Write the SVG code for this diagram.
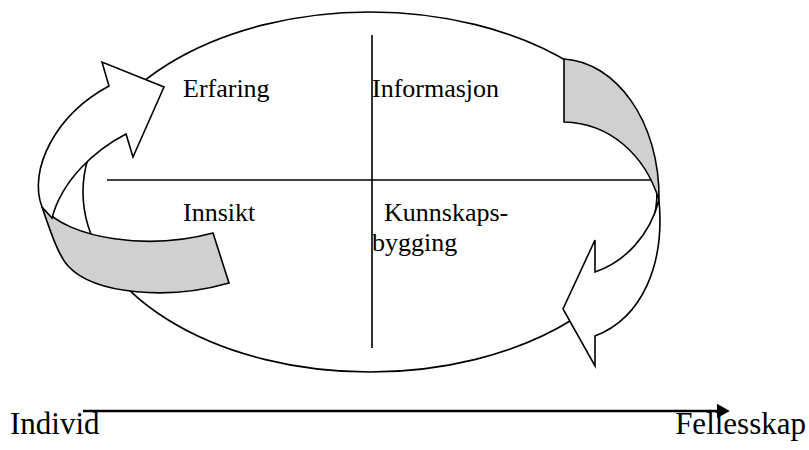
<svg xmlns="http://www.w3.org/2000/svg" width="809" height="450" viewBox="0 0 809 450">
  <defs>
    <style>
      .ln { fill: none; stroke: #000; stroke-width: 1.6; }
      .body { fill: #fff; stroke: #000; stroke-width: 1.6; stroke-linejoin: miter; }
      .ribbon { fill: #d0d0d0; stroke: #000; stroke-width: 1.6; stroke-linejoin: miter; }
      .lbl { font-family: "Liberation Serif", "Times New Roman", serif; font-size: 26px; fill: #000; }
      .axis-lbl { font-family: "Liberation Serif", "Times New Roman", serif; font-size: 31px; fill: #000; }
    </style>
    <marker id="axisHead" viewBox="0 0 10 10" refX="0" refY="5" markerWidth="8" markerHeight="8" markerUnits="userSpaceOnUse" orient="auto" overflow="visible">
      <path d="M0,-4 L16,5 L0,14 Z" fill="#000"/>
    </marker>
  </defs>

  <rect width="809" height="450" fill="#fff"/>

  <!-- cycle ellipse and quadrant dividers -->
  <g id="cycle">
    <ellipse class="ln" cx="370" cy="192" rx="287" ry="180"/>
    <line class="ln" x1="372" y1="35" x2="372" y2="348"/>
    <line class="ln" x1="107" y1="180" x2="655" y2="180"/>
  </g>

  <!-- curved arrows around the cycle -->
  <g id="connectors">
    <g id="arrow-left">
      <path class="ribbon" d="M42,207 C70,240 150,250 213,233 L229,283 C170,300 95,295 68,266 C58,255 50,230 42,207 Z"/>
      <path class="body" d="M42,207 C28,170 55,115 109,86 L102,62 L164,87 L133,157 L126,134 C95,150 62,180 52,218 Z"/>
    </g>
    <g id="arrow-right">
      <path class="ribbon" d="M564,59 C615,62 660,120 659,200 C645,155 610,123 564,122 Z"/>
      <path class="body" d="M659,200 C665,265 642,318 595,336 L595,366 L563,309 L595,240 L595,272 C625,262 650,235 659,200 Z"/>
    </g>
    <g id="axis">
      <line x1="83" y1="411" x2="717" y2="411" stroke="#000" stroke-width="2.4" marker-end="url(#axisHead)"/>
    </g>
  </g>

  <!-- quadrant labels -->
  <g id="q-erfaring"><text class="lbl" x="183" y="97">Erfaring</text></g>
  <g id="q-informasjon"><text class="lbl" x="372" y="97">Informasjon</text></g>
  <g id="q-innsikt"><text class="lbl" x="183" y="221">Innsikt</text></g>
  <g id="q-kunnskap">
    <text class="lbl" x="384" y="221">Kunnskaps-</text>
    <text class="lbl" x="372" y="251">bygging</text>
  </g>

  <!-- axis end labels -->
  <g id="axis-individ"><text class="axis-lbl" x="10" y="434">Individ</text></g>
  <g id="axis-fellesskap"><text class="axis-lbl" x="806" y="434" text-anchor="end">Fellesskap</text></g>
</svg>
